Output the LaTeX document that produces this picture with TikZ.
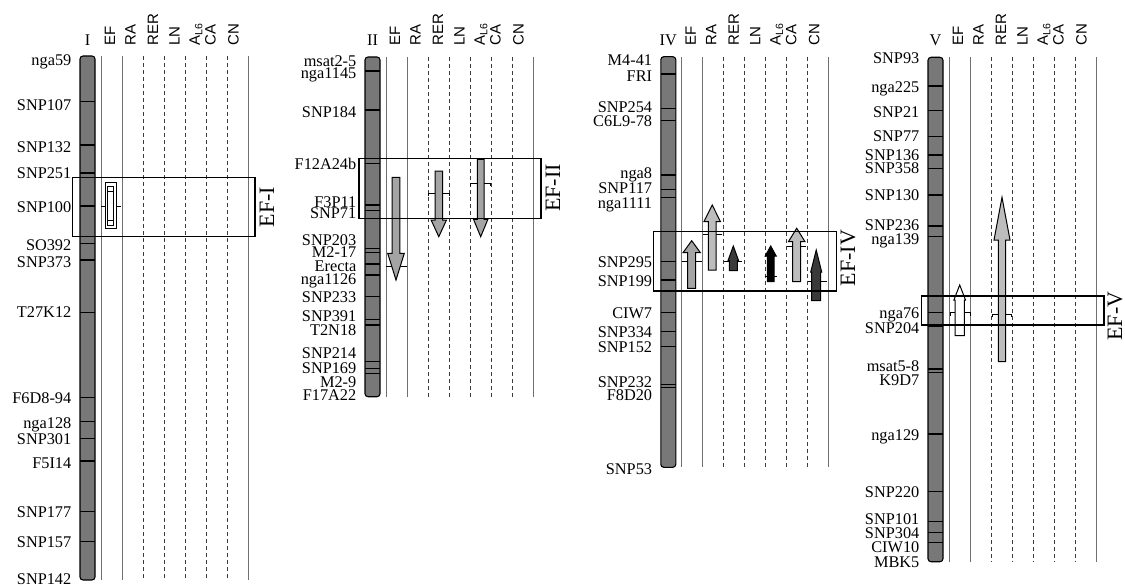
\documentclass[tikz,border=0pt]{standalone}
\usepackage{fontspec}
\setmainfont{Liberation Serif}
\setsansfont{Liberation Sans}
\definecolor{barfill}{HTML}{787878}
\definecolor{colgray}{HTML}{707070}
\definecolor{dashgray}{HTML}{3C3C3C}
\definecolor{arlight}{HTML}{BDBDBD}
\definecolor{armid}{HTML}{A4A4A4}
\definecolor{ardark}{HTML}{3A3A3A}
\tikzset{
  chrbar/.style={draw=black, line width=1.1pt, fill=barfill, rounded corners=3pt},
  chrtick/.style={line width=1.4pt},
  solidcol/.style={draw=colgray, line width=0.9pt},
  dashcol/.style={draw=dashgray, line width=0.9pt, dash pattern=on 4pt off 3pt},
  mlabel/.style={anchor=base east, font=\fontsize{16.3}{16}\selectfont, inner sep=0pt},
  hlabel/.style={rotate=90, anchor=west, font=\sffamily\fontsize{15}{15}\selectfont, inner sep=0pt},
  rlabel/.style={anchor=base, font=\fontsize{16.3}{16}\selectfont, inner sep=0pt},
  efbox/.style={draw=black, line width=1.1pt},
  eflabel/.style={rotate=90, font=\fontsize{22}{22}\selectfont, inner sep=0pt},
  arr/.style={draw=black, line width=1pt, line join=miter},
  whiskline/.style={line width=1pt},
}
% #1 id, #2 xc, #3 top, #4 bottom, #5 numeral, #6 list label/labely/ticky
\newcommand\drawchrom[6]{%
  \foreach \k in {0,1,7} \draw[solidcol] (#2+13.5+21*\k,#3) -- (#2+13.5+21*\k,#4);
  \foreach \k in {2,...,6} \draw[dashcol] (#2+13.5+21*\k,#3) -- (#2+13.5+21*\k,#4);
  \draw[chrbar] (#2-7.5,#3) rectangle (#2+7.5,#4);
  \foreach \lab/\ly/\ty [count=\n] in {#6} {
    \node[mlabel] (#1m\n) at (#2-16,\ly+5.5) {\lab};
    \ifdim \ty pt>0pt \draw[chrtick] (#2-7.5,\ty) -- (#2+7.5,\ty); \fi
  }
  \node[rlabel] (#1num) at (#2,45.5) {#5};
  \node[hlabel] (#1h1) at (#2+22.5,46) {EF};
  \node[hlabel] (#1h2) at (#2+43,46) {RA};
  \node[hlabel] (#1h3) at (#2+65.5,46) {RER};
  \node[hlabel] (#1h4) at (#2+87,46) {LN};
  \node[hlabel] (#1h5) at (#2+108.5,46) {A\textsubscript{L6}};
  \node[hlabel] (#1h6) at (#2+123,46) {CA};
  \node[hlabel] (#1h7) at (#2+146,46) {CN};
}
% arrow polygon: xc, body half width, tail y, head base y, head half width, tip y, fill
\newcommand\farrow[7]{%
  \draw[arr, fill=#7] (#1-#2,#3) -- (#1-#2,#4) -- (#1-#5,#4) -- (#1,#6) -- (#1+#5,#4) -- (#1+#2,#4) -- (#1+#2,#3) -- cycle;}
\newcommand\whisk[3]{\draw[whiskline] (#1,#3) -- (#2,#3);}
\newcommand\whiskb[3]{\draw[whiskline] (#1,#3+3) -- (#1,#3) -- (#2,#3) -- (#2,#3+3);}
\begin{document}
\begin{tikzpicture}[x=1pt,y=-1pt]
\useasboundingbox (0,0) rectangle (1125,586);
% Chromosome I
\drawchrom{a}{87.5}{56}{580}{I}{nga59/60/-1, SNP107/105/101.7, SNP132/146.5/145, SNP251/173/173, SNP100/207/206, SO392/245/243.3, SNP373/261.5/260, T27K12/312/312.3, F6D8-94/398/397.3, nga128/422.5/421.7, SNP301/439.3/438.3, F5I14/462.5/461, SNP177/511.7/511.7, SNP157/542/541.7, SNP142/578.5/-1}
% Chromosome II
\drawchrom{b}{372.5}{57}{396.7}{II}{msat2-5/60.7/-1, nga1145/72.7/71, SNP184/111.7/110, F12A24b/164/163.3, F3P11/201.7/205, SNP71/213.3/210.7, SNP203/240/248.3, M2-17/251.7/252.7, Erecta/265.5/264, nga1126/278.5/275, SNP233/297.3/296.7, SNP391/316/319.3, T2N18/330/325, SNP214/353.3/361.7, SNP169/368.3/368.3, M2-9/381.7/373.3, F17A22/395/-1}
% Chromosome IV
\drawchrom{d}{668.3}{56.7}{467.3}{IV}{M4-41/60/-1, FRI/76/74, SNP254/107.3/108.3, C6L9-78/120.7/120.7, nga8/172.7/175, SNP117/188.3/189.3, nga1111/202.7/197.3, SNP295/261.7/261.7, SNP199/280.7/280, CIW7/312.7/312.7, SNP334/331.7/331.7, SNP152/347.3/346.7, SNP232/381.7/384.7, F8D20/395/387.3, SNP53/469.3/-1}
% Chromosome V
\drawchrom{e}{935.5}{57.3}{561.7}{V}{SNP93/58.3/-1, nga225/87.3/86, SNP21/111.7/110.7, SNP77/136/136.7, SNP136/155/155, SNP358/168.3/168.3, SNP130/195/195, SNP236/225/226, nga139/239.3/236.7, nga76/313.3/312.7, SNP204/328.3/326, msat5-8/366/369, K9D7/380/372.7, nga129/435/434, SNP220/491.7/491.7, SNP101/519.3/521.7, SNP304/533.3/532.7, CIW10/546.7/542.3, MBK5/561.7/-1}
% Chr I EF symbol
\whisk{101}{121}{206.7}
\draw[arr, fill=white] (105.3,182.7) rectangle (116.7,228.7);
\draw[whiskline] (107.7,186) rectangle (113.7,225.3);
\draw[whiskline] (107.7,191) -- (113.7,191);
\draw[whiskline] (107.7,220) -- (113.7,220);
% Chr II arrows (down)
\whisk{386}{406.7}{266.7}
\farrow{396}{3.8}{177.3}{253.3}{8.3}{280}{armid}
\whiskb{428}{449}{193.3}
\farrow{438.8}{3.8}{171}{220}{7.7}{236.7}{armid}
\whiskb{470.7}{490.7}{183.3}
\farrow{480.7}{3.3}{159.3}{219.3}{7.2}{236.7}{armid}
% Chr IV arrows (up)
\whisk{681.7}{701.7}{261}
\farrow{691.7}{4}{288.3}{252.7}{8.7}{240.7}{armid}
\whisk{702.7}{721.7}{234}
\farrow{712.2}{3.8}{270}{221.7}{8.3}{205}{arlight}
\whisk{724}{741.7}{261}
\farrow{733.3}{4}{270.7}{260.7}{5.3}{246}{ardark}
\whisk{764.5}{777}{276.7}
\farrow{770.7}{3.3}{281.7}{256}{5.5}{246}{black}
\whisk{786.7}{806}{246.7}
\farrow{796.7}{4}{281.7}{241.7}{8.3}{228.3}{arlight}
\whisk{808}{826.7}{281.7}
\farrow{816.2}{4.5}{300.7}{272}{5.5}{250}{ardark}
% Chr V arrows (up)
\whiskb{950.7}{970}{312.7}
\farrow{959.7}{4.7}{335.7}{300}{5.8}{285}{white}
\whiskb{992.7}{1011.7}{314}
\farrow{1002}{3.7}{361.7}{240}{8}{197.3}{arlight}
% EF boxes
\draw[efbox] (72.7,177.3) rectangle (255,236.7);
\node[eflabel] (efI) at (267,207) {EF-I};
\draw[efbox] (359,158.7) rectangle (541,218.3);
\node[eflabel] (efII) at (553,188) {EF-II};
\draw[efbox] (653.3,231.7) rectangle (836.7,291);
\node[eflabel] (efIV) at (848,258) {EF-IV};
\draw[efbox] (921.7,296) rectangle (1104,325);
\node[eflabel] (efV) at (1115,316) {EF-V};
\end{tikzpicture}
\end{document}
